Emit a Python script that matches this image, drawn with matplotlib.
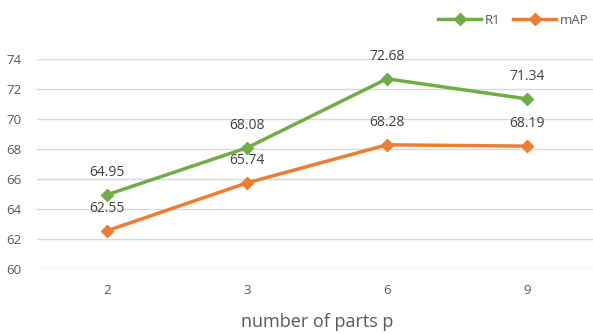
import matplotlib
matplotlib.use("Agg")
import matplotlib.pyplot as plt

parts = ["2", "3", "6", "9"]
r1 = [64.95, 68.08, 72.68, 71.34]
mean_ap = [62.55, 65.74, 68.28, 68.19]
yticks = [60, 62, 64, 66, 68, 70, 72, 74]

GREEN = "#70AD47"
ORANGE = "#ED7D31"
TEXT = "#595959"
LABEL = "#404040"

plt.rcParams["font.family"] = ["Open Sans", "DejaVu Sans"]

fig = plt.figure(figsize=(5.93, 3.34), dpi=100)
ax = fig.add_axes([37 / 593, 65 / 334, 560 / 593, 210 / 334])

x = list(range(len(parts)))
ax.plot(x, r1, color=GREEN, lw=2.5, marker="D", ms=6.5, label="R1")
ax.plot(x, mean_ap, color=ORANGE, lw=2.5, marker="D", ms=6.5, label="mAP")

# data labels above each point
for xi, v in zip(x, r1):
    ax.annotate(f"{v:.2f}", (xi, v), xytext=(0, 16), textcoords="offset points",
                ha="center", va="center", fontsize=10, color=LABEL)
for xi, v in zip(x, mean_ap):
    ax.annotate(f"{v:.2f}", (xi, v), xytext=(0, 16), textcoords="offset points",
                ha="center", va="center", fontsize=10, color=LABEL)

ax.set_xlim(-0.5, 3.5)
ax.set_ylim(60, 74)
ax.set_xticks(x)
ax.set_xticklabels(parts)
ax.set_yticks(yticks)
ax.tick_params(length=0, labelsize=9.5, colors=TEXT)
ax.tick_params(axis="x", pad=11)
ax.tick_params(axis="y", pad=11)
ax.grid(axis="y", color="#D9D9D9", lw=1)
ax.set_axisbelow(True)
for s in ax.spines.values():
    s.set_visible(False)

ax.set_xlabel("number of parts p", fontsize=13, color=TEXT, labelpad=11)

fig.legend(loc="upper right", bbox_to_anchor=(1.012, 0.995), ncol=2, frameon=False,
           fontsize=9.5, labelcolor=TEXT, handlelength=3.2, columnspacing=1.0,
           handletextpad=0.3)

fig.savefig("out.png", dpi=100)
